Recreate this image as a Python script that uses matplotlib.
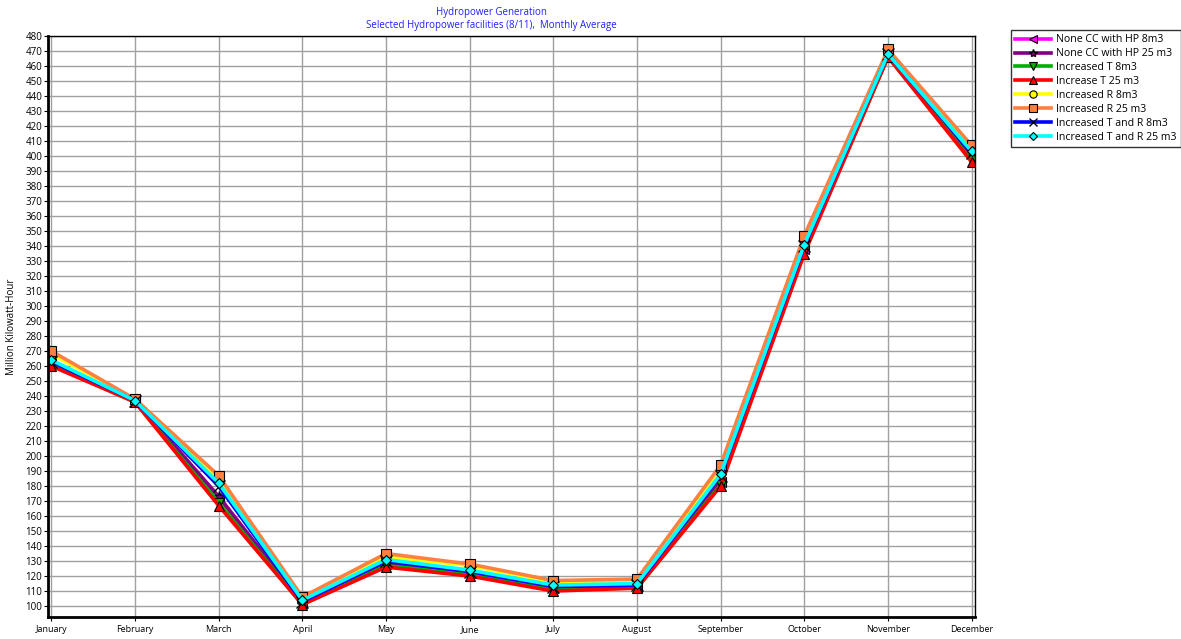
import numpy as np
import matplotlib.pyplot as plt

months = ['January', 'February', 'March', 'April', 'May', 'June', 'July',
          'August', 'September', 'October', 'November', 'December']

# monthly average generation, million kWh
none_cc_8 = [262, 237, 173, 102, 128, 122, 112, 113, 183, 338, 467, 399]
none_cc_25 = [262, 237, 173, 102, 128, 122, 112, 113, 183, 338, 467, 399]
inc_t_8 = [261, 236, 169, 101, 127, 121, 111, 112, 181, 336, 466, 397]
inc_t_25 = [260, 236, 167, 101, 126, 120, 110, 112, 180, 335, 466, 396]
inc_r_8 = [268, 238, 185, 105, 133, 127, 116, 117, 192, 345, 470, 406]
inc_r_25 = [270, 238, 187, 106, 135, 128, 117, 118, 194, 347, 471, 407]
inc_tr_8 = [263, 237, 180, 103, 130, 123, 113, 114, 187, 340, 468, 402]
inc_tr_25 = [264, 237, 182, 104, 131, 124, 114, 115, 188, 341, 468, 403]

series = [
    ('None CC with HP 8m3', none_cc_8, '#ff00ff', '<'),
    ('None CC with HP 25 m3', none_cc_25, '#800080', '*'),
    ('Increased T 8m3', inc_t_8, '#00b000', 'v'),
    ('Increase T 25 m3', inc_t_25, '#ff0000', '^'),
    ('Increased R 8m3', inc_r_8, '#ffff00', 'o'),
    ('Increased R 25 m3', inc_r_25, '#ff8040', 's'),
    ('Increased T and R 8m3', inc_tr_8, '#0000ff', 'x'),
    ('Increased T and R 25 m3', inc_tr_25, '#00ffff', 'D'),
]

plt.rcParams['font.family'] = ['Open Sans', 'DejaVu Sans']

fig = plt.figure(figsize=(11.81, 6.39), dpi=100)
ax = fig.add_axes([0.0406, 0.0344, 0.785, 0.9093])

x = np.arange(len(months))
for name, vals, col, mk in series:
    if mk in ('*', 'x'):
        ax.plot(x, vals, color=col, lw=2.6, marker=mk, ms=8, mec='black',
                mew=1.0, label=name)
    else:
        ax.plot(x, vals, color=col, lw=2.6, marker=mk,
                ms=7 if mk != 'D' else 5.5, mfc=col, mec='black',
                mew=0.8, label=name)

ax.set_xlim(-0.04, 11.04)
ax.set_ylim(92.7, 480)
ax.set_xticks(x)
ax.set_xticklabels(months, fontsize=6.5)
ax.set_yticks(np.arange(100, 481, 10))
ax.tick_params(axis='y', labelsize=7, length=3, pad=1)
ax.tick_params(axis='x', length=3, pad=3)
ax.grid(True, color='#a0a0a0', lw=1)
ax.set_axisbelow(True)
for side in ('left', 'bottom'):
    ax.spines[side].set_linewidth(2)
ax.spines['top'].set_linewidth(1)
ax.spines['right'].set_linewidth(1)
ax.set_ylabel('Million Kilowatt-Hour', fontsize=7, labelpad=6)

fig.text(0.416, 0.989, 'Hydropower Generation', color='#2020ff',
         fontsize=7, ha='center', va='top')
fig.text(0.416, 0.968, 'Selected Hydropower facilities (8/11),  Monthly Average',
         color='#2020ff', fontsize=7, ha='center', va='top')

leg = fig.legend(loc='upper left', bbox_to_anchor=(0.856, 0.953),
                 fontsize=7.6, handlelength=3.4, frameon=True, fancybox=False,
                 borderpad=0.4, labelspacing=0.28, handletextpad=0.5,
                 markerscale=0.75, borderaxespad=0)
leg.get_frame().set_edgecolor('black')
leg.get_frame().set_linewidth(1)

fig.savefig('out.png', dpi=100)
